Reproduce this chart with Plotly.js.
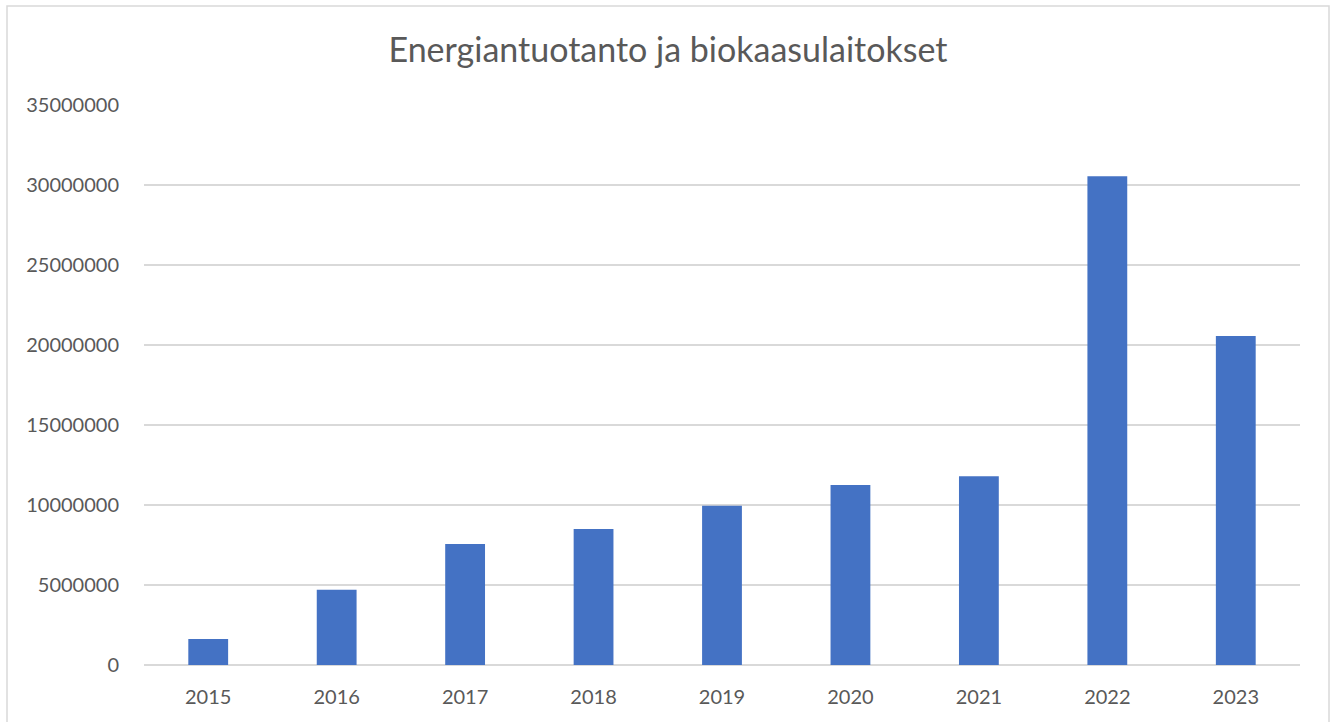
<!DOCTYPE html>
<html>
<head>
<meta charset="utf-8">
<script src="https://cdn.plot.ly/plotly-3.0.1.min.js"></script>
<style>html,body{margin:0;padding:0;background:#fff;}#chart{width:1336px;height:722px;}</style>
</head>
<body>
<div id="chart"></div>
<script>
const years = ["2015","2016","2017","2018","2019","2020","2021","2022","2023"];
const energy = [1630000, 4700000, 7560000, 8500000, 9960000, 11250000, 11800000, 30550000, 20560000];
const chartTitle = "Energiantuotanto ja biokaasulaitokset";

const W = 1336, H = 722;
const L = 144, R = 36, T = 105, B = 57;
const pw = W - L - R, ph = H - T - B;
function px2x(p){ return (p - L) / pw; }
function py2y(p){ return (H - B - p) / ph; }

const trace = {
  type: "bar",
  x: years,
  y: energy,
  marker: {color: "#4472c4"},
  hoverinfo: "x+y"
};

const layout = {
  width: W, height: H,
  margin: {l: L, r: R, t: T, b: B, pad: 0},
  paper_bgcolor: "#ffffff",
  plot_bgcolor: "#ffffff",
  font: {family: "Lato, 'Open Sans', sans-serif", color: "#595959"},
  title: {
    text: chartTitle,
    font: {size: 34, color: "#595959", family: "Lato, 'Open Sans', sans-serif"},
    x: 0.5, xanchor: "center", xref: "container",
    y: 1 - 50 / H, yanchor: "middle", yref: "container"
  },
  bargap: 0.69,
  showlegend: false,
  xaxis: {
    type: "category",
    showgrid: false,
    showline: false,
    zeroline: false,
    ticks: "outside", ticklen: 14, tickcolor: "rgba(0,0,0,0)",
    tickfont: {size: 20, color: "#595959"}
  },
  yaxis: {
    range: [0, 35000000],
    dtick: 5000000,
    tick0: 0,
    tickformat: "d",
    showgrid: true,
    gridcolor: "#d9d9d9",
    gridwidth: 1.5,
    zeroline: true,
    zerolinecolor: "#d9d9d9",
    zerolinewidth: 1.5,
    showline: false,
    ticks: "outside", ticklen: 20, tickcolor: "rgba(0,0,0,0)",
    tickfont: {size: 20, color: "#595959"}
  },
  shapes: [{
    type: "rect", xref: "paper", yref: "paper",
    x0: px2x(7), x1: px2x(1329), y0: py2y(723), y1: py2y(6),
    line: {color: "#d9d9d9", width: 1.5},
    fillcolor: "rgba(0,0,0,0)", layer: "below"
  }]
};

Plotly.newPlot("chart", [trace], layout, {displayModeBar: false, staticPlot: true});
</script>
</body>
</html>
